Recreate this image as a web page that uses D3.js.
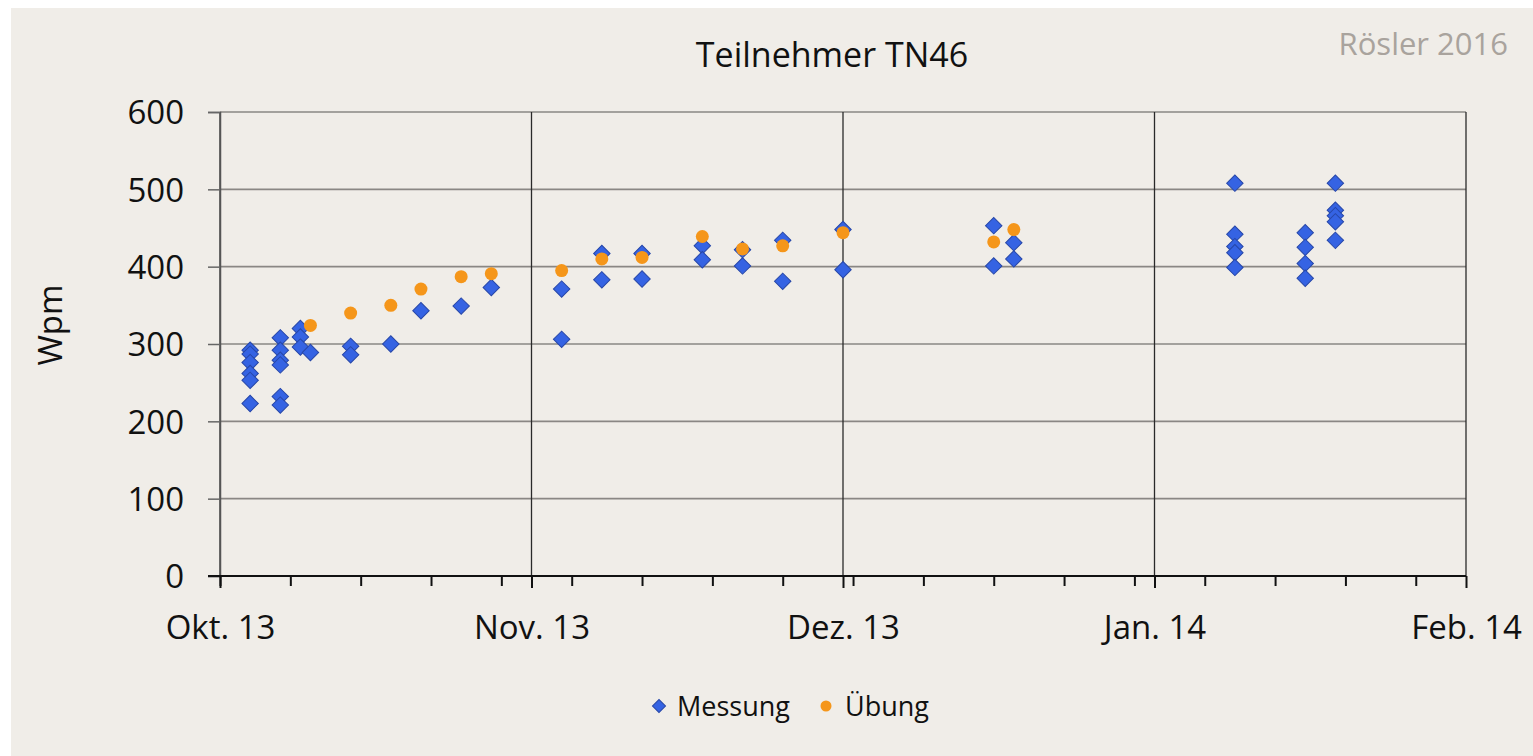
<!DOCTYPE html>
<html><head><meta charset="utf-8">
<script src="https://cdn.jsdelivr.net/npm/d3@7"></script>
<style>html,body{margin:0;padding:0;background:#fff;overflow:hidden}svg{display:block}</style>
</head><body><svg id="chart" width="1533" height="756"></svg>
<script>
// ---- data ----
const title = "Teilnehmer TN46";
const source = "Rösler 2016";
const yLabel = "Wpm";
const seriesNames = ["Messung", "Übung"];
const xStart = "2013-10-01";
const xEnd = "2014-02-02";
const xTickLabels = ["Okt. 13", "Nov. 13", "Dez. 13", "Jan. 14", "Feb. 14"];
const yTicks = [0, 100, 200, 300, 400, 500, 600];

const messungDates = [
  "2013-10-04","2013-10-04","2013-10-04","2013-10-04","2013-10-04","2013-10-04",
  "2013-10-07","2013-10-07","2013-10-07","2013-10-07","2013-10-07","2013-10-07",
  "2013-10-09","2013-10-09","2013-10-09",
  "2013-10-10",
  "2013-10-14","2013-10-14",
  "2013-10-18","2013-10-21","2013-10-25","2013-10-28",
  "2013-11-04","2013-11-04",
  "2013-11-08","2013-11-08",
  "2013-11-12","2013-11-12",
  "2013-11-18","2013-11-18",
  "2013-11-22","2013-11-22",
  "2013-11-26","2013-11-26",
  "2013-12-02","2013-12-02",
  "2013-12-17","2013-12-17",
  "2013-12-19","2013-12-19",
  "2014-01-10","2014-01-10","2014-01-10","2014-01-10","2014-01-10",
  "2014-01-17","2014-01-17","2014-01-17","2014-01-17",
  "2014-01-20","2014-01-20","2014-01-20","2014-01-20","2014-01-20"
];
const messungValues = [
  292, 287, 276, 262, 253, 223,
  308, 292, 279, 273, 232, 221,
  320, 309, 296,
  289,
  297, 286,
  300, 343, 349, 373,
  371, 306,
  417, 383,
  417, 384,
  427, 409,
  422, 401,
  434, 381,
  448, 396,
  453, 401,
  431, 410,
  508, 442, 426, 418, 399,
  444, 425, 404, 385,
  508, 473, 466, 458, 434
];
const uebungDates = [
  "2013-10-10","2013-10-14","2013-10-18","2013-10-21","2013-10-25","2013-10-28",
  "2013-11-04","2013-11-08","2013-11-12","2013-11-18","2013-11-22","2013-11-26",
  "2013-12-02","2013-12-17","2013-12-19"
];
const uebungValues = [
  324, 340, 350, 371, 387, 391,
  395, 410, 412, 439, 423, 427,
  444, 432, 448
];

// ---- chart ----
const parse = d3.timeParse("%Y-%m-%d");
const svg = d3.select("#chart");
const font = "'Open Sans', 'Noto Sans', sans-serif";
const W = 1533, H = 756;
const m = {left: 220, right: 1466, top: 112, bottom: 576};

svg.append("rect").attr("x", 11).attr("y", 8).attr("width", W - 11).attr("height", H - 8).attr("fill", "#f0ede8");

const x0 = parse(xStart), x1 = parse(xEnd);
const x = d3.scaleTime().domain([x0, x1]).range([m.left, m.right]);
const y = d3.scaleLinear().domain([0, 600]).range([m.bottom, m.top]);

const majorDates = d3.range(0, 125, 31).map(d => d3.timeDay.offset(x0, d));
const minorDates = d3.range(0, 125, 7).map(d => d3.timeDay.offset(x0, d));

// horizontal gridlines
svg.append("g").selectAll("line").data(yTicks.filter(v => v > 0)).join("line")
  .attr("x1", m.left).attr("x2", m.right)
  .attr("y1", d => y(d)).attr("y2", d => y(d))
  .attr("stroke", "#8a8784").attr("stroke-width", 1.6);

// vertical gridlines at major ticks
svg.append("g").selectAll("line").data(majorDates).join("line")
  .attr("x1", d => x(d)).attr("x2", d => x(d))
  .attr("y1", m.top).attr("y2", m.bottom)
  .attr("stroke", "#2a2a2a").attr("stroke-width", 1.3);

// y axis
const yAxis = d3.axisLeft(y).tickValues(yTicks).tickSize(12).tickPadding(24);
const gy = svg.append("g").attr("transform", `translate(${m.left},0)`).call(yAxis);
gy.select(".domain").attr("stroke", "#555").attr("stroke-width", 1.5);
gy.selectAll(".tick line").attr("stroke", "#666").attr("stroke-width", 1.5);
gy.selectAll(".tick text").attr("font-family", font).attr("font-size", 33).attr("fill", "#111").attr("dy", "0.36em");

// x axis minor ticks
const gxMinor = svg.append("g").attr("transform", `translate(0,${m.bottom})`)
  .call(d3.axisBottom(x).tickValues(minorDates).tickSize(10).tickFormat(""));
gxMinor.select(".domain").remove();
gxMinor.selectAll(".tick line").attr("stroke", "#111").attr("stroke-width", 2);

// x axis major
const gx = svg.append("g").attr("transform", `translate(0,${m.bottom})`)
  .call(d3.axisBottom(x).tickValues(majorDates).tickSize(12).tickPadding(28)
    .tickFormat((d, i) => xTickLabels[i]));
gx.select(".domain").attr("stroke", "#111").attr("stroke-width", 2.2).attr("d", `M${m.left - 12},0H${m.right}`);
gx.selectAll(".tick line").attr("stroke", "#111").attr("stroke-width", 2);
gx.selectAll(".tick text").attr("font-family", font).attr("font-size", 33).attr("fill", "#111").attr("dy", "0.71em");

// markers
const diamond = d3.symbol().type(d3.symbolSquare).size(135);
const messung = messungDates.map((d, i) => ({date: parse(d), value: messungValues[i]}));
const uebung = uebungDates.map((d, i) => ({date: parse(d), value: uebungValues[i]}));

svg.append("g").selectAll("path").data(messung).join("path")
  .attr("d", diamond)
  .attr("transform", d => `translate(${x(d.date)},${y(d.value)}) rotate(45)`)
  .attr("fill", "#3563e3").attr("stroke", "#2747a8").attr("stroke-width", 1);

svg.append("g").selectAll("circle").data(uebung).join("circle")
  .attr("cx", d => x(d.date)).attr("cy", d => y(d.value)).attr("r", 6.5)
  .attr("fill", "#f5961a");

// title & source
svg.append("text").attr("x", 832).attr("y", 67).attr("text-anchor", "middle")
  .attr("font-family", font).attr("font-size", 34).attr("fill", "#111").text(title);
svg.append("text").attr("x", 1508).attr("y", 55).attr("text-anchor", "end")
  .attr("font-family", font).attr("font-size", 31).attr("fill", "#a9a39d").text(source);

// y label
svg.append("text").attr("transform", `translate(62,325) rotate(-90)`).attr("text-anchor", "middle")
  .attr("font-family", font).attr("font-size", 33).attr("fill", "#111").text(yLabel);

// legend
const lg = svg.append("g");
lg.append("path").attr("d", d3.symbol().type(d3.symbolSquare).size(85))
  .attr("transform", "translate(659,706) rotate(45)")
  .attr("fill", "#3563e3").attr("stroke", "#2747a8").attr("stroke-width", 1);
lg.append("text").attr("x", 677).attr("y", 716).attr("font-family", font).attr("font-size", 27)
  .attr("fill", "#111").text(seriesNames[0]);
lg.append("circle").attr("cx", 826).attr("cy", 706).attr("r", 5.5).attr("fill", "#f5961a");
lg.append("text").attr("x", 845).attr("y", 716).attr("font-family", font).attr("font-size", 27)
  .attr("fill", "#111").text(seriesNames[1]);
</script></body></html>
